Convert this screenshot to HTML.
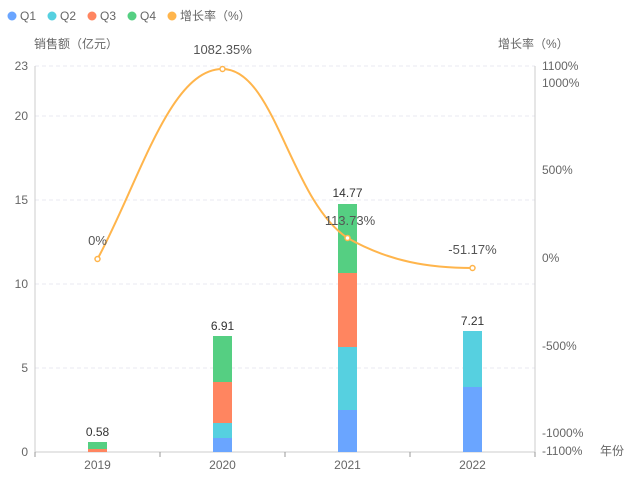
<!DOCTYPE html>
<html><head><meta charset="utf-8"><style>
body{margin:0;background:#fff;}
svg{display:block;font-family:"Liberation Sans","Noto Sans CJK SC",sans-serif;}
</style></head><body>
<svg width="636" height="478" viewBox="0 0 636 478" xmlns="http://www.w3.org/2000/svg">
<rect width="636" height="478" fill="#fff"/>
<g font-size="12" fill="#666">
<circle cx="12" cy="16" r="4.5" fill="#6aa5ff"/><text x="20" y="20">Q1</text>
<circle cx="52" cy="16" r="4.5" fill="#56d0e0"/><text x="60" y="20">Q2</text>
<circle cx="92" cy="16" r="4.5" fill="#ff8560"/><text x="100" y="20">Q3</text>
<circle cx="132" cy="16" r="4.5" fill="#55cf82"/><text x="140" y="20">Q4</text>
<circle cx="172" cy="16" r="4.5" fill="#ffb54c"/><text x="180" y="20">增长率（%）</text>
</g>
<text x="34" y="48" font-size="12" fill="#666">销售额（亿元）</text>
<text x="498" y="48" font-size="12" fill="#666">增长率（%）</text>
<g stroke="#e8e8f2" stroke-dasharray="4,3">
<line x1="35" x2="535" y1="66" y2="66"/>
<line x1="35" x2="535" y1="116" y2="116"/>
<line x1="35" x2="535" y1="200" y2="200"/>
<line x1="35" x2="535" y1="284" y2="284"/>
<line x1="35" x2="535" y1="368" y2="368"/>
</g>
<line x1="35" x2="35" y1="66" y2="452" stroke="#ccc"/>
<line x1="535" x2="535" y1="66" y2="452" stroke="#ccc"/>
<line x1="35" x2="535" y1="452" y2="452" stroke="#ccc"/>
<g stroke="#999"><line x1="35" x2="35" y1="452" y2="457"/><line x1="160" x2="160" y1="452" y2="457"/><line x1="285" x2="285" y1="452" y2="457"/><line x1="410" x2="410" y1="452" y2="457"/><line x1="535" x2="535" y1="452" y2="457"/></g>
<g font-size="12" fill="#666" text-anchor="end">
<text x="28" y="70">23</text><text x="28" y="120">20</text><text x="28" y="204">15</text><text x="28" y="288">10</text><text x="28" y="372">5</text><text x="28" y="456">0</text>
</g>
<g font-size="12" fill="#666">
<text x="542" y="70">1100%</text><text x="542" y="87">1000%</text><text x="542" y="174">500%</text><text x="542" y="262">0%</text><text x="542" y="350">-500%</text><text x="542" y="437">-1000%</text><text x="542" y="455">-1100%</text><text x="600" y="455">年份</text>
</g>
<g font-size="12" fill="#666" text-anchor="middle">
<text x="97.5" y="469">2019</text><text x="222.5" y="469">2020</text><text x="347.5" y="469">2021</text><text x="472.5" y="469">2022</text>
</g>
<rect x="88" y="449" width="19" height="3" fill="#ff8560"/>
<rect x="88" y="442" width="19" height="7" fill="#55cf82"/>
<rect x="213" y="438" width="19" height="14" fill="#6aa5ff"/>
<rect x="213" y="423" width="19" height="15" fill="#56d0e0"/>
<rect x="213" y="382" width="19" height="41" fill="#ff8560"/>
<rect x="213" y="336" width="19" height="46" fill="#55cf82"/>
<rect x="338" y="410" width="19" height="42" fill="#6aa5ff"/>
<rect x="338" y="347" width="19" height="63" fill="#56d0e0"/>
<rect x="338" y="273" width="19" height="74" fill="#ff8560"/>
<rect x="338" y="204" width="19" height="69" fill="#55cf82"/>
<rect x="463" y="387" width="19" height="65" fill="#6aa5ff"/>
<rect x="463" y="331" width="19" height="56" fill="#56d0e0"/>
<g font-size="12" fill="#333" text-anchor="middle">
<text x="97.5" y="436">0.58</text><text x="222.5" y="330">6.91</text><text x="347.5" y="197">14.77</text><text x="472.5" y="325">7.21</text>
</g>
<path d="M97.5,259 C140,180 170,69 222.5,69 C275,69 290,200 347.5,238 C390,262 430,268 472.5,268" fill="none" stroke="#ffb54c" stroke-width="2"/>
<g fill="#fff" stroke="#ffb54c" stroke-width="1.5">
<circle cx="97.5" cy="259" r="2.5"/><circle cx="222.5" cy="69" r="2.5"/><circle cx="347.5" cy="238" r="2.5"/><circle cx="472.5" cy="268" r="2.5"/>
</g>
<g font-size="13" fill="#555" text-anchor="middle">
<text x="97.5" y="245">0%</text><text x="222.5" y="54">1082.35%</text><text x="350" y="225">113.73%</text><text x="472.5" y="254">-51.17%</text>
</g>
</svg>
</body></html>
